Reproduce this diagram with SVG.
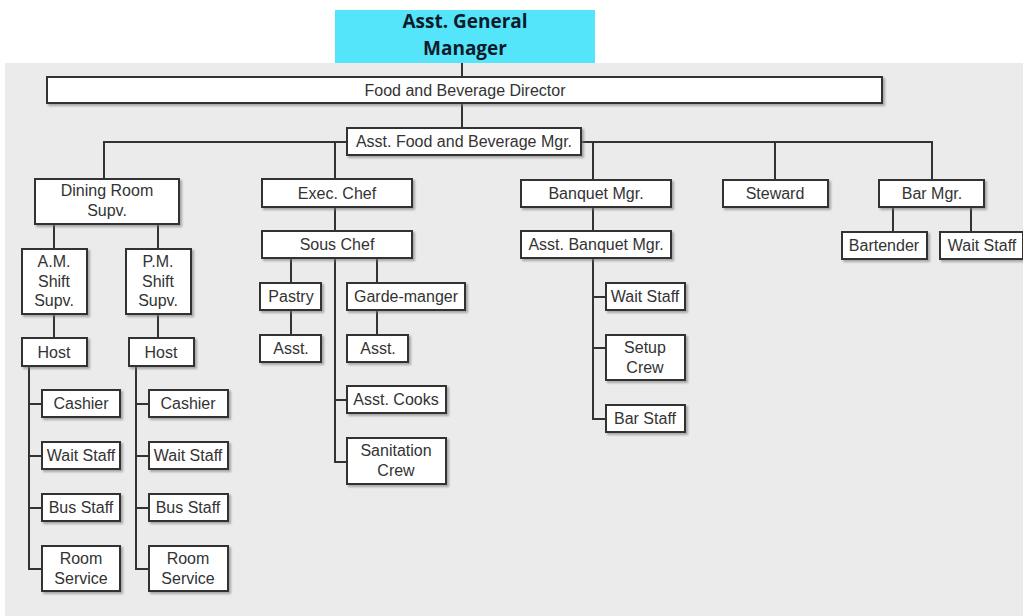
<svg xmlns="http://www.w3.org/2000/svg" width="1023" height="616" viewBox="0 0 1023 616">
<defs>
<filter id="sh" x="-10%" y="-10%" width="130%" height="140%">
<feDropShadow dx="2" dy="2" stdDeviation="1" flood-color="#777" flood-opacity="0.6"/>
</filter>
<style>
.b{fill:#fff;stroke:#333;stroke-width:2;filter:url(#sh)}
.t{font-family:"Liberation Sans",Arial,sans-serif;font-size:16px;fill:#333;text-anchor:middle}
.c{fill:none;stroke:#333;stroke-width:2}
.h{font-family:"Open Sans","Noto Sans",sans-serif;font-weight:bold;font-size:19px;fill:#0d1b2a;text-anchor:middle}
</style>
</defs>
<rect x="0" y="0" width="1023" height="616" fill="#fff"/>
<rect x="5" y="63" width="1018" height="553" fill="#ebebeb"/>
<g id="connectors" class="c">
<path d="M462 63V77M462 103V128"/>
<path d="M104 179V142H347M581 142H932V180M335 142V179M593 142V180M775 142V180"/>
<path d="M54 224V249M158 224V249M54 314V338M158 314V338"/>
<path d="M29 366V569H42M29 404H42M29 456H42M29 508H42"/>
<path d="M136 366V569H149M136 404H149M136 456H149M136 508H149"/>
<path d="M335 207V231M291 258V283M377 258V283M291 310V335M377 310V335M335 258V462H347M335 400H347"/>
<path d="M593 207V231M593 258V419H606M593 297H606M593 348H606"/>
<path d="M893 207V232M971 207V232"/>
</g>
<g id="agm"><rect x="335" y="10" width="260" height="53" fill="#55e5fb"/><text class="h" x="465" y="28">Asst. General</text><text class="h" x="465" y="55">Manager</text></g>
<g id="fbd"><rect class="b" x="47" y="77" width="835" height="26"/><text class="t" x="465" y="96">Food and Beverage Director</text></g>
<g id="afbm"><rect class="b" x="347" y="128" width="234" height="27"/><text class="t" x="464" y="147">Asst. Food and Beverage Mgr.</text></g>
<g id="drs"><rect class="b" x="35" y="179" width="144" height="45"/><text class="t" x="107" y="196">Dining Room</text><text class="t" x="107" y="216">Supv.</text></g>
<g id="exec"><rect class="b" x="262" y="179" width="150" height="28"/><text class="t" x="337" y="199">Exec. Chef</text></g>
<g id="banq"><rect class="b" x="521" y="180" width="150" height="27"/><text class="t" x="596" y="199">Banquet Mgr.</text></g>
<g id="stew"><rect class="b" x="723" y="180" width="105" height="27"/><text class="t" x="775" y="199">Steward</text></g>
<g id="barmgr"><rect class="b" x="879" y="180" width="105" height="27"/><text class="t" x="932" y="199">Bar Mgr.</text></g>
<g id="bartender"><rect class="b" x="842" y="232" width="85" height="27"/><text class="t" x="884" y="251">Bartender</text></g>
<g id="barwait"><rect class="b" x="940" y="232" width="83" height="27"/><text class="t" x="982" y="251">Wait Staff</text></g>
<g id="am"><rect class="b" x="22" y="249" width="65" height="65"/><text class="t" x="54" y="267">A.M.</text><text class="t" x="54" y="287">Shift</text><text class="t" x="54" y="306">Supv.</text></g>
<g id="pm"><rect class="b" x="126" y="249" width="65" height="65"/><text class="t" x="158" y="267">P.M.</text><text class="t" x="158" y="287">Shift</text><text class="t" x="158" y="306">Supv.</text></g>
<g id="host1"><rect class="b" x="22" y="338" width="65" height="28"/><text class="t" x="54" y="358">Host</text></g>
<g id="host2"><rect class="b" x="129" y="338" width="65" height="28"/><text class="t" x="161" y="358">Host</text></g>
<g id="cash1"><rect class="b" x="42" y="390" width="78" height="27"/><text class="t" x="81" y="409">Cashier</text></g>
<g id="wait1"><rect class="b" x="42" y="442" width="78" height="27"/><text class="t" x="81" y="461">Wait Staff</text></g>
<g id="bus1"><rect class="b" x="42" y="494" width="78" height="27"/><text class="t" x="81" y="513">Bus Staff</text></g>
<g id="room1"><rect class="b" x="42" y="546" width="78" height="45"/><text class="t" x="81" y="564">Room</text><text class="t" x="81" y="584">Service</text></g>
<g id="cash2"><rect class="b" x="149" y="390" width="79" height="27"/><text class="t" x="188" y="409">Cashier</text></g>
<g id="wait2"><rect class="b" x="149" y="442" width="79" height="27"/><text class="t" x="188" y="461">Wait Staff</text></g>
<g id="bus2"><rect class="b" x="149" y="494" width="79" height="27"/><text class="t" x="188" y="513">Bus Staff</text></g>
<g id="room2"><rect class="b" x="149" y="546" width="79" height="45"/><text class="t" x="188" y="564">Room</text><text class="t" x="188" y="584">Service</text></g>
<g id="sous"><rect class="b" x="262" y="231" width="150" height="27"/><text class="t" x="337" y="250">Sous Chef</text></g>
<g id="pastry"><rect class="b" x="260" y="283" width="61" height="27"/><text class="t" x="291" y="302">Pastry</text></g>
<g id="garde"><rect class="b" x="347" y="283" width="118" height="27"/><text class="t" x="406" y="302">Garde-manger</text></g>
<g id="asstp"><rect class="b" x="260" y="335" width="61" height="27"/><text class="t" x="291" y="354">Asst.</text></g>
<g id="asstg"><rect class="b" x="347" y="335" width="61" height="27"/><text class="t" x="378" y="354">Asst.</text></g>
<g id="cooks"><rect class="b" x="347" y="386" width="99" height="27"/><text class="t" x="396" y="405">Asst. Cooks</text></g>
<g id="sanit"><rect class="b" x="347" y="438" width="99" height="46"/><text class="t" x="396" y="456">Sanitation</text><text class="t" x="396" y="476">Crew</text></g>
<g id="abm"><rect class="b" x="521" y="231" width="150" height="27"/><text class="t" x="596" y="250">Asst. Banquet Mgr.</text></g>
<g id="bwait"><rect class="b" x="606" y="283" width="79" height="27"/><text class="t" x="645" y="302">Wait Staff</text></g>
<g id="setup"><rect class="b" x="606" y="335" width="79" height="45"/><text class="t" x="645" y="353">Setup</text><text class="t" x="645" y="373">Crew</text></g>
<g id="barstaff"><rect class="b" x="606" y="405" width="79" height="27"/><text class="t" x="645" y="424">Bar Staff</text></g>
</svg>
